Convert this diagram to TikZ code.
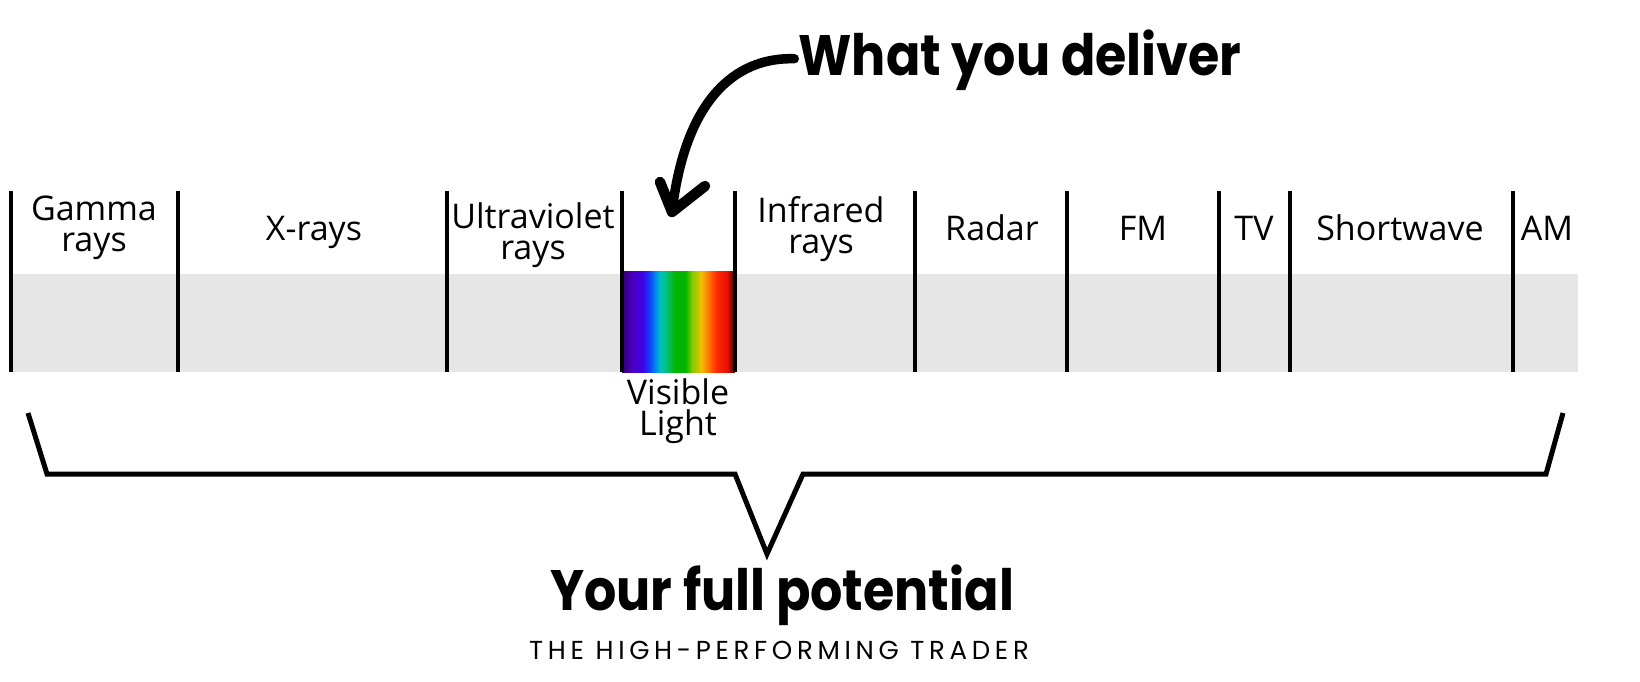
\documentclass[tikz,border=0pt]{standalone}
\usepackage{fontspec}
\setmainfont{Open Sans}
\newfontfamily\popfont[FakeStretch=0.89]{Poppins}
\newfontfamily\subfont[LetterSpace=18]{Poppins}
\definecolor{bandgray}{HTML}{E6E6E6}
\definecolor{sa}{HTML}{30006A}
\definecolor{sb}{HTML}{4A00C0}
\definecolor{sc}{HTML}{4000E8}
\definecolor{sd}{HTML}{1838F8}
\definecolor{se}{HTML}{0090F0}
\definecolor{sf}{HTML}{00C0C0}
\definecolor{sg}{HTML}{00C070}
\definecolor{sh}{HTML}{00B400}
\definecolor{si}{HTML}{00B400}
\definecolor{sj}{HTML}{80CC00}
\definecolor{sk}{HTML}{F0C000}
\definecolor{sl}{HTML}{FF7000}
\definecolor{sm}{HTML}{FF2800}
\definecolor{sn}{HTML}{E81000}
\definecolor{so}{HTML}{400000}
\pgfdeclarehorizontalshading{spectrum}{100bp}{color(0bp)=(sa); color(25bp)=(sa); color(29.5bp)=(sb); color(34bp)=(sc); color(37bp)=(sd); color(40bp)=(se); color(42bp)=(sf); color(45bp)=(sg); color(48.5bp)=(sh); color(53bp)=(si); color(56bp)=(sj); color(60bp)=(sk); color(63.5bp)=(sl); color(67bp)=(sm); color(71.5bp)=(sn); color(75bp)=(so); color(100bp)=(so)}
\begin{document}
\begin{tikzpicture}[x=1pt,y=-1pt,
  lab/.style={font=\fontsize{34}{31}\selectfont, inner sep=0pt, anchor=base, align=center},
  sepline/.style={line width=4pt, black},
  headb/.style={font=\popfont\bfseries\fontsize{57}{60}\selectfont, inner sep=0pt, anchor=base},
  subt/.style={font=\subfont\fontsize{26}{28}\selectfont, inner sep=0pt, anchor=base},
  brace/.style={line width=5pt, black, miter limit=10},
  brush/.style={line width=9.5pt, black, line cap=round},
  brushhead/.style={line width=10.5pt, black, line cap=round, line join=round}]
\useasboundingbox (0,0) rectangle (1640,681);
% band
\fill[bandgray] (11,274) rectangle (1578,372);
\shade[shading=spectrum] (622,271) rectangle (735,372);
% separators
\foreach \x in {11,178,447,622,735,915,1067,1219,1290,1513}
  \draw[sepline] (\x,191) -- (\x,372);
% labels (base = baseline of last line)
\node[lab] (gamma) at (94,251) {Gamma\\rays};
\node[lab] (xrays) at (314,240) {X-rays};
\node[lab] (uv) at (533,259) {Ultraviolet\\rays};
\node[lab] (ir) at (821,253) {Infrared\\rays};
\node[lab] (radar) at (992,240) {Radar};
\node[lab] (fm) at (1143,240) {FM};
\node[lab] (tv) at (1254,240) {TV};
\node[lab] (sw) at (1400,240) {Shortwave};
\node[lab] (am) at (1547,240) {AM};
\node[lab] (vis) at (678,435) {Visible\\Light};
% headings
\node[headb] (deliver) at (1020,75) {What you deliver};
\node[headb] (potential) at (782,610) {Your full potential};
\node[subt] (trader) at (779,659) {THE HIGH-PERFORMING TRADER};
% arrow
\coordinate (tip) at (672,212);
\coordinate (wl) at (660,182);
\coordinate (wr) at (705,186);
\draw[brush] ([xshift=-4pt,yshift=1pt]deliver.west) .. controls (735,57) and (685,100) .. (tip);
\draw[brushhead] (wl) -- (tip) -- (wr);
% brace
\coordinate (b1) at (28,413);
\coordinate (b2) at (47,474);
\coordinate (b3) at (735,474);
\coordinate (b4) at (767,554);
\coordinate (b5) at (803,474);
\coordinate (b6) at (1546,474);
\coordinate (b7) at (1563,413);
\draw[brace] (b1) -- (b2) -- (b3) -- (b4) -- (b5) -- (b6) -- (b7);
\end{tikzpicture}
\end{document}
